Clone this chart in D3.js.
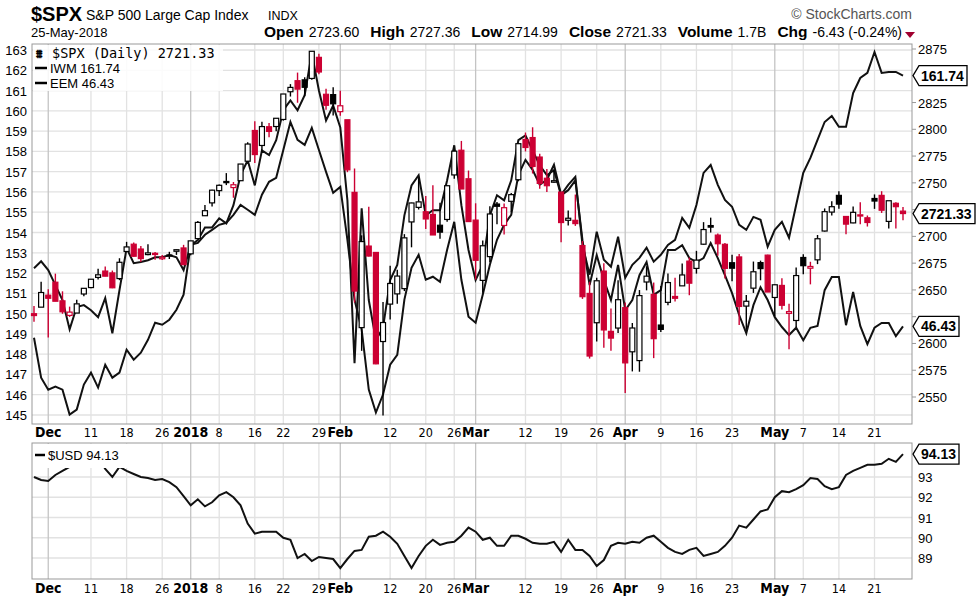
<!DOCTYPE html>
<html><head><meta charset="utf-8">
<script src="https://cdn.jsdelivr.net/npm/d3@7/dist/d3.min.js"></script>
<style>body{margin:0;background:#fff}svg{font-family:"Liberation Sans",Arial,sans-serif}</style>
</head><body><svg id="c" width="980" height="608"></svg>
<script>
// ---- DATA ----
const prevClose = 2627.04;
const spxOpen = [2627.8,2633.9,2645.1,2657.2,2639.8,2626.2,2628.4,2646.2,2652.2,2661.7,2667.6,2665.9,2660.6,2685.9,2692.7,2688.2,2683.0,2684.2,2679.1,2682.1,2686.1,2689.2,
2683.7,2697.9,2719.3,2731.3,2742.7,2751.2,2745.6,2752.0,2770.2,2798.9,2784.9,2802.4,2802.6,2809.2,2835.1,2845.4,2846.2,2847.5,2867.2,2832.7,2832.4,
2816.5,2808.9,2741.1,2614.8,2690.95,2685.0,2601.8,2636.75,2646.3,2651.2,2713.5,2727.1,2722.99,2720.5,2710.4,2715.8,2757.4,2780.45,2753.8,
2715.2,2658.9,2681.1,2730.2,2710.2,2732.75,2752.9,2790.5,2792.3,2774.1,2754.3,2750.6,2741.4,2715.05,2714.99,2691.4,2646.7,2619.35,2667.6,2611.3,2614.4,
2633.45,2592.2,2584.0,2657.4,2645.8,2617.2,2638.4,2643.9,2653.8,2676.9,2670.1,2692.7,2710.1,2701.2,2692.6,2675.4,2680.8,2634.9,2651.65,2675.5,2682.5,
2642.96,2654.2,2628.1,2621.45,2680.3,2670.3,2678.1,2705.0,2722.7,2738.3,2718.6,2712.6,2719.7,2717.35,2735.4,2738.3,2713.98,2730.9,2723.6];
const spxHigh = [2634.9,2657.7,2650.6,2665.2,2648.7,2634.4,2640.9,2651.6,2660.3,2669.7,2671.9,2668.1,2679.6,2694.9,2694.4,2691.0,2692.6,2685.4,2682.7,2685.6,2688.0,2692.1,
2695.9,2714.4,2729.3,2743.5,2748.5,2759.1,2750.8,2767.6,2787.9,2807.5,2807.0,2805.8,2810.3,2833.0,2842.2,2852.97,2848.6,2872.9,2870.6,2837.8,2839.3,
2835.96,2808.9,2763.4,2701.0,2727.7,2685.3,2638.7,2672.6,2668.8,2702.1,2731.5,2754.4,2737.6,2747.75,2731.3,2747.8,2780.6,2789.15,2761.5,
2730.9,2696.25,2728.1,2732.1,2730.6,2740.45,2786.6,2796.98,2801.9,2777.1,2763.0,2761.85,2741.4,2724.2,2739.1,2695.7,2657.7,2661.4,2674.8,2632.65,2659.1,
2638.3,2619.1,2649.9,2672.1,2656.9,2653.55,2665.45,2661.4,2674.7,2680.3,2686.5,2713.3,2717.5,2702.8,2693.9,2682.9,2683.55,2645.3,2676.5,2677.35,2682.9,
2655.3,2660.9,2637.1,2670.9,2683.35,2676.3,2701.3,2726.1,2732.9,2742.1,2718.6,2727.8,2731.96,2719.5,2739.2,2742.2,2733.3,2731.97,2727.36];
const spxLow = [2620.3,2633.9,2605.5,2639.3,2627.7,2624.8,2628.4,2644.1,2651.5,2659.8,2662.9,2651.6,2659.1,2685.9,2680.7,2676.1,2682.4,2678.1,2677.9,2678.9,2682.7,2673.6,
2682.4,2697.8,2719.1,2727.9,2737.6,2747.9,2736.1,2752.0,2769.6,2768.6,2778.4,2792.6,2798.1,2808.1,2830.6,2824.8,2830.9,2846.2,2851.5,2818.3,2813.0,
2812.7,2759.97,2638.2,2593.1,2681.3,2580.6,2532.7,2622.45,2637.1,2648.9,2689.8,2725.1,2706.8,2701.3,2697.8,2713.7,2753.8,2744.2,2713.5,
2659.65,2647.3,2675.75,2711.3,2701.7,2722.65,2751.5,2779.3,2758.7,2744.4,2741.5,2749.97,2694.6,2710.05,2709.8,2641.6,2585.9,2601.8,2596.1,2593.1,2609.7,
2553.8,2573.9,2573.6,2649.6,2586.3,2610.8,2635.8,2639.25,2653.8,2645.05,2665.2,2692.05,2703.6,2681.9,2660.6,2657.99,2617.3,2612.7,2647.2,2659.0,2648.0,
2625.4,2631.7,2594.6,2615.3,2664.7,2655.2,2674.1,2704.5,2719.5,2725.9,2701.9,2712.2,2711.4,2709.2,2725.7,2721.9,2707.4,2707.4,2714.99];
const spxClose = [2626.07,2647.58,2642.22,2639.44,2629.57,2629.27,2636.98,2651.50,2659.99,2664.11,2662.85,2652.01,2675.81,2690.16,2681.47,2679.25,2684.57,2683.34,2680.50,2682.62,2687.54,2673.61,
2695.81,2713.06,2723.99,2743.15,2747.71,2751.29,2748.23,2767.56,2786.24,2776.42,2802.56,2798.03,2810.30,2832.97,2839.13,2837.54,2839.25,2872.87,2853.53,2822.43,2823.81,
2821.98,2762.13,2648.94,2695.14,2681.66,2581.00,2619.55,2656.00,2662.94,2698.63,2731.20,2732.22,2716.26,2701.33,2703.96,2747.30,2779.60,2744.28,2713.83,
2677.67,2691.25,2720.94,2728.12,2726.80,2738.97,2786.57,2783.02,2765.31,2749.48,2747.33,2752.01,2712.92,2716.94,2711.93,2643.69,2588.26,2658.55,2612.62,2605.00,2640.87,
2581.88,2614.45,2644.69,2662.84,2604.47,2613.16,2656.87,2642.19,2663.99,2656.30,2677.84,2706.39,2708.64,2693.13,2670.14,2670.29,2634.56,2639.40,2666.94,2669.91,2648.05,
2654.80,2635.67,2629.73,2663.42,2672.63,2671.92,2697.79,2723.07,2727.72,2730.13,2711.45,2722.46,2720.13,2712.97,2733.01,2724.44,2733.29,2727.76,2721.33];
const iwm = [148.81,146.84,146.25,146.40,146.25,145.02,145.27,146.50,147.09,146.35,147.48,146.84,147.09,148.22,147.73,148.07,148.71,149.55,149.45,149.70,150.19,150.93,
153.39,153.49,153.89,154.13,154.38,154.48,154.87,155.36,155.12,154.87,155.86,156.50,156.70,158.07,159.45,158.57,158.32,159.16,158.07,156.99,155.96,
156.25,153.64,150.69,149.21,146.25,145.12,146.01,147.48,147.97,150.69,152.26,152.90,151.67,151.82,151.57,153.15,154.53,151.67,149.85,
149.55,150.93,152.41,153.64,154.38,154.87,156.84,157.58,157.09,156.35,156.60,157.34,155.86,156.35,156.74,153.39,151.92,154.04,152.66,152.31,153.79,
151.77,152.41,152.75,153.25,152.56,152.90,153.39,153.64,154.72,154.23,155.36,156.94,157.33,156.35,155.61,155.27,154.38,154.13,154.77,154.63,153.30,
154.13,154.53,153.74,155.36,156.94,157.68,158.57,159.45,159.75,159.21,159.21,160.88,161.62,161.87,162.90,161.87,161.92,161.92,161.74];
const eem = [48.02,48.21,47.97,47.56,47.15,46.35,46.96,47.01,46.87,46.68,47.20,46.24,47.42,48.57,48.16,48.19,48.24,48.32,48.32,48.38,48.32,47.97,
48.65,48.79,49.14,49.14,49.39,49.25,49.75,50.57,50.98,50.29,51.25,51.12,51.53,52.35,52.62,52.35,52.76,53.91,52.89,52.07,52.48,
51.88,49.88,45.42,49.66,47.15,46.05,46.39,47.70,48.11,49.47,50.29,50.57,49.47,49.61,49.61,50.43,51.39,49.75,48.52,
47.70,48.11,49.47,50.02,49.88,50.43,51.53,51.66,51.25,50.84,50.57,50.71,50.02,50.16,50.43,48.79,47.56,48.38,47.70,47.15,48.11,
46.87,47.15,47.83,48.19,47.29,47.42,48.52,48.52,48.65,48.30,48.19,48.30,48.71,48.30,47.83,47.34,46.74,46.24,47.01,47.50,47.15,
46.68,46.41,46.19,46.39,46.05,46.39,46.44,47.42,47.78,47.78,46.46,47.37,46.44,45.94,46.39,46.52,46.52,46.16,46.43];
const usd = [93.0,92.85,92.8,93.1,93.3,93.5,93.75,93.9,94.05,94.0,93.4,93.0,93.5,93.3,93.15,93.0,92.95,92.85,92.9,92.75,92.5,92.05,
91.6,91.9,91.55,91.75,92.1,92.25,92.0,91.6,90.7,90.2,90.3,90.3,90.3,90.0,89.9,89.0,89.2,88.85,89.05,89.0,88.95,
88.5,88.95,89.35,89.4,90.05,90.1,90.3,90.05,89.7,89.1,88.5,89.1,89.6,89.9,89.65,89.75,89.8,90.1,90.5,
90.3,89.9,90.0,89.6,89.6,90.1,90.1,89.95,89.75,89.7,89.7,89.8,89.3,89.9,89.4,89.4,89.1,88.6,88.9,89.6,89.75,
89.7,89.8,89.75,90.0,90.1,89.8,89.5,89.3,89.2,89.4,89.5,89.1,89.2,89.3,89.6,90.0,90.6,90.5,90.9,91.3,91.4,
92.0,92.3,92.25,92.4,92.6,92.95,92.9,92.55,92.4,92.5,93.1,93.3,93.45,93.6,93.6,93.65,93.9,93.75,94.13];
const tickIdx = [2,8,13,18,22,26,31,35,40,43,50,55,59,62,69,74,79,83,88,93,98,104,108,113,118];
const tickLabels = ["Dec","11","18","26","2018","8","16","22","29","Feb","12","20","26","Mar","12","19","26","Apr","9","16","23","May","7","14","21"];
const monthLabels = ["Dec","2018","Feb","Mar","Apr","May"];
const leftTicks = d3.range(145,164);
const rightTicks = d3.range(2550,2876,25);
const usdTicks = [89,90,91,92,93];

// ---- LAYOUT ----
const svg = d3.select("#c");
const L=32, R=912, T=44, B=424, T2=443, B2=579;
const n = spxClose.length;
const x = d3.scaleLinear().domain([0,n-1]).range([34,903]);
const yL = d3.scaleLinear().domain([145,163]).range([415,50]);
const yR = d3.scaleLinear().domain([2550,2875]).range([397,49]);
const yE = d3.scaleLinear().domain([44,54]).range([415,50]);
const yU = d3.scaleLinear().domain([89,93]).range([558,477]);
const RED="#cc0033";

// header
svg.append("text").attr("x",31).attr("y",21).attr("font-size",20).attr("font-weight","bold").text("$SPX");
svg.append("text").attr("x",86).attr("y",20).attr("font-size",14).text("S&P 500 Large Cap Index");
svg.append("text").attr("x",268).attr("y",20).attr("font-size",12.5).text("INDX");
svg.append("text").attr("x",31).attr("y",37).attr("font-size",13).text("25-May-2018");
svg.append("text").attr("x",912).attr("y",19).attr("font-size",14).attr("fill","#555").attr("text-anchor","end").text("© StockCharts.com");
const hdr = svg.append("text").attr("x",902).attr("y",37).attr("font-size",14).attr("text-anchor","end");
[["Open","2723.60"],["High","2727.36"],["Low","2714.99"],["Close","2721.33"],["Volume","1.7B"],["Chg","-6.43 (-0.24%)"]].forEach((p,i)=>{
  hdr.append("tspan").attr("font-weight","bold").attr("font-size",15.5).attr("dx",i?11:0).text(p[0]);
  hdr.append("tspan").attr("dx",5).text(p[1]);
});
svg.append("path").attr("d","M905,32 L915,32 L910,38 Z").attr("fill","#a00030");

function panel(top,bottom,hTicks,ys){
  const g=svg.append("g");
  g.selectAll(".h").data(hTicks).join("line").attr("x1",L).attr("x2",R).attr("y1",d=>ys(d)).attr("y2",d=>ys(d)).attr("stroke","#e2e2e2").attr("stroke-width",1.3);
  g.selectAll(".v").data(tickIdx).join("line").attr("x1",d=>x(d)).attr("x2",d=>x(d)).attr("y1",top).attr("y2",bottom)
   .attr("stroke",(d,i)=>monthLabels.includes(tickLabels[i])?"#c4c4c4":"#e2e2e2").attr("stroke-width",1.3);
  g.append("rect").attr("x",L).attr("y",top).attr("width",R-L).attr("height",bottom-top).attr("fill","none").attr("stroke","#999");
}
panel(T,B,leftTicks,yL);
panel(T2,B2,usdTicks,yU);

// value-box positions (to keep right tick labels clear)
const boxYs = [yL(iwm[n-1]), yR(spxClose[n-1]), yE(eem[n-1])];
const visRight = rightTicks.filter(t=>boxYs.every(b=>Math.abs(yR(t)-b)>13));

// axes labels
svg.append("g").selectAll("text").data(leftTicks).join("text").attr("x",27).attr("y",d=>yL(d)+5).attr("text-anchor","end").attr("font-size",13).text(d=>d);
svg.append("g").selectAll("text").data(visRight).join("text").attr("x",918).attr("y",d=>yR(d)+5).attr("font-size",13).text(d=>d);
svg.append("g").selectAll("line").data(rightTicks).join("line").attr("x1",R).attr("x2",R+4).attr("y1",d=>yR(d)).attr("y2",d=>yR(d)).attr("stroke","#999");
svg.append("g").selectAll("text").data(usdTicks).join("text").attr("x",918).attr("y",d=>yU(d)+5).attr("font-size",13).text(d=>d);
[437,593].forEach(yy=>{
  svg.append("g").selectAll("text").data(tickIdx).join("text").attr("x",d=>x(d)).attr("y",yy).attr("text-anchor","middle")
   .attr("font-family","'Liberation Sans Narrow','DejaVu Sans Condensed',sans-serif")
   .attr("font-size",(d,i)=>monthLabels.includes(tickLabels[i])?14:12.5)
   .attr("font-weight",(d,i)=>monthLabels.includes(tickLabels[i])?"bold":"normal").text((d,i)=>tickLabels[i]);
});

// lines
const lineL = d3.line().x((d,i)=>x(i)).y(d=>yL(d));
const lineE = d3.line().x((d,i)=>x(i)).y(d=>yE(d));
svg.append("path").datum(iwm).attr("d",lineL).attr("fill","none").attr("stroke","#111").attr("stroke-width",2);
svg.append("path").datum(eem).attr("d",lineE).attr("fill","none").attr("stroke","#111").attr("stroke-width",2);

// candles
const cw=5;
const cg=svg.append("g");
spxClose.forEach((c,i)=>{
  const o=spxOpen[i], h=spxHigh[i], l=spxLow[i], pc=i?spxClose[i-1]:prevClose;
  const col = c<pc?RED:"#000";
  const hollow = c>=o;
  const cx=x(i);
  const top=yR(Math.max(o,c)), bot=yR(Math.min(o,c));
  cg.append("line").attr("x1",cx).attr("x2",cx).attr("y1",yR(h)).attr("y2",top).attr("stroke",col).attr("stroke-width",1.4);
  cg.append("line").attr("x1",cx).attr("x2",cx).attr("y1",bot).attr("y2",yR(l)).attr("stroke",col).attr("stroke-width",1.4);
  cg.append("rect").attr("x",cx-cw/2).attr("y",top).attr("width",cw).attr("height",Math.max(bot-top,1.2))
    .attr("fill",hollow?"#fff":col).attr("stroke",col).attr("stroke-width",1.2);
});

// usd line
svg.append("path").datum(usd).attr("d",d3.line().x((d,i)=>x(i)).y(d=>yU(d))).attr("fill","none").attr("stroke","#111").attr("stroke-width",2);

// legends
const lg=svg.append("g");
lg.append("rect").attr("x",33).attr("y",45).attr("width",190).attr("height",46).attr("fill","#fff").attr("opacity",0.85);
lg.append("text").attr("x",36).attr("y",58).attr("font-size",12).attr("font-weight","bold").text("⩩");
lg.append("text").attr("x",52).attr("y",58).attr("font-family","'DejaVu Sans Mono',monospace").attr("font-size",13.5).text("$SPX (Daily) 2721.33");
[["IWM 161.74",73],["EEM 46.43",88]].forEach(p=>{
  lg.append("line").attr("x1",35).attr("x2",47).attr("y1",p[1]-5).attr("y2",p[1]-5).attr("stroke","#000").attr("stroke-width",2.5);
  lg.append("text").attr("x",50).attr("y",p[1]).attr("font-size",13).text(p[0]);
});
svg.append("rect").attr("x",33).attr("y",444).attr("width",118).attr("height",24).attr("fill","#fff");
svg.append("line").attr("x1",35).attr("x2",45).attr("y1",455).attr("y2",455).attr("stroke","#000").attr("stroke-width",2.5);
svg.append("text").attr("x",48).attr("y",460).attr("font-size",13).text("$USD 94.13");

// value boxes
function vbox(y,txt,w){
  const g=svg.append("g");
  g.append("path").attr("d",`M${R+1},${y} L${R+7},${y-10} L${R+7+w},${y-10} L${R+7+w},${y+10} L${R+7},${y+10} Z`).attr("fill","#fff").attr("stroke","#000").attr("stroke-width",1.3);
  g.append("text").attr("x",R+9).attr("y",y+5).attr("font-size",14).attr("font-weight","bold").text(txt);
}
vbox(boxYs[0],"161.74",48);
vbox(boxYs[1],"2721.33",56);
vbox(boxYs[2],"46.43",40);
vbox(yU(usd[n-1]),"94.13",40);
</script></body></html>
